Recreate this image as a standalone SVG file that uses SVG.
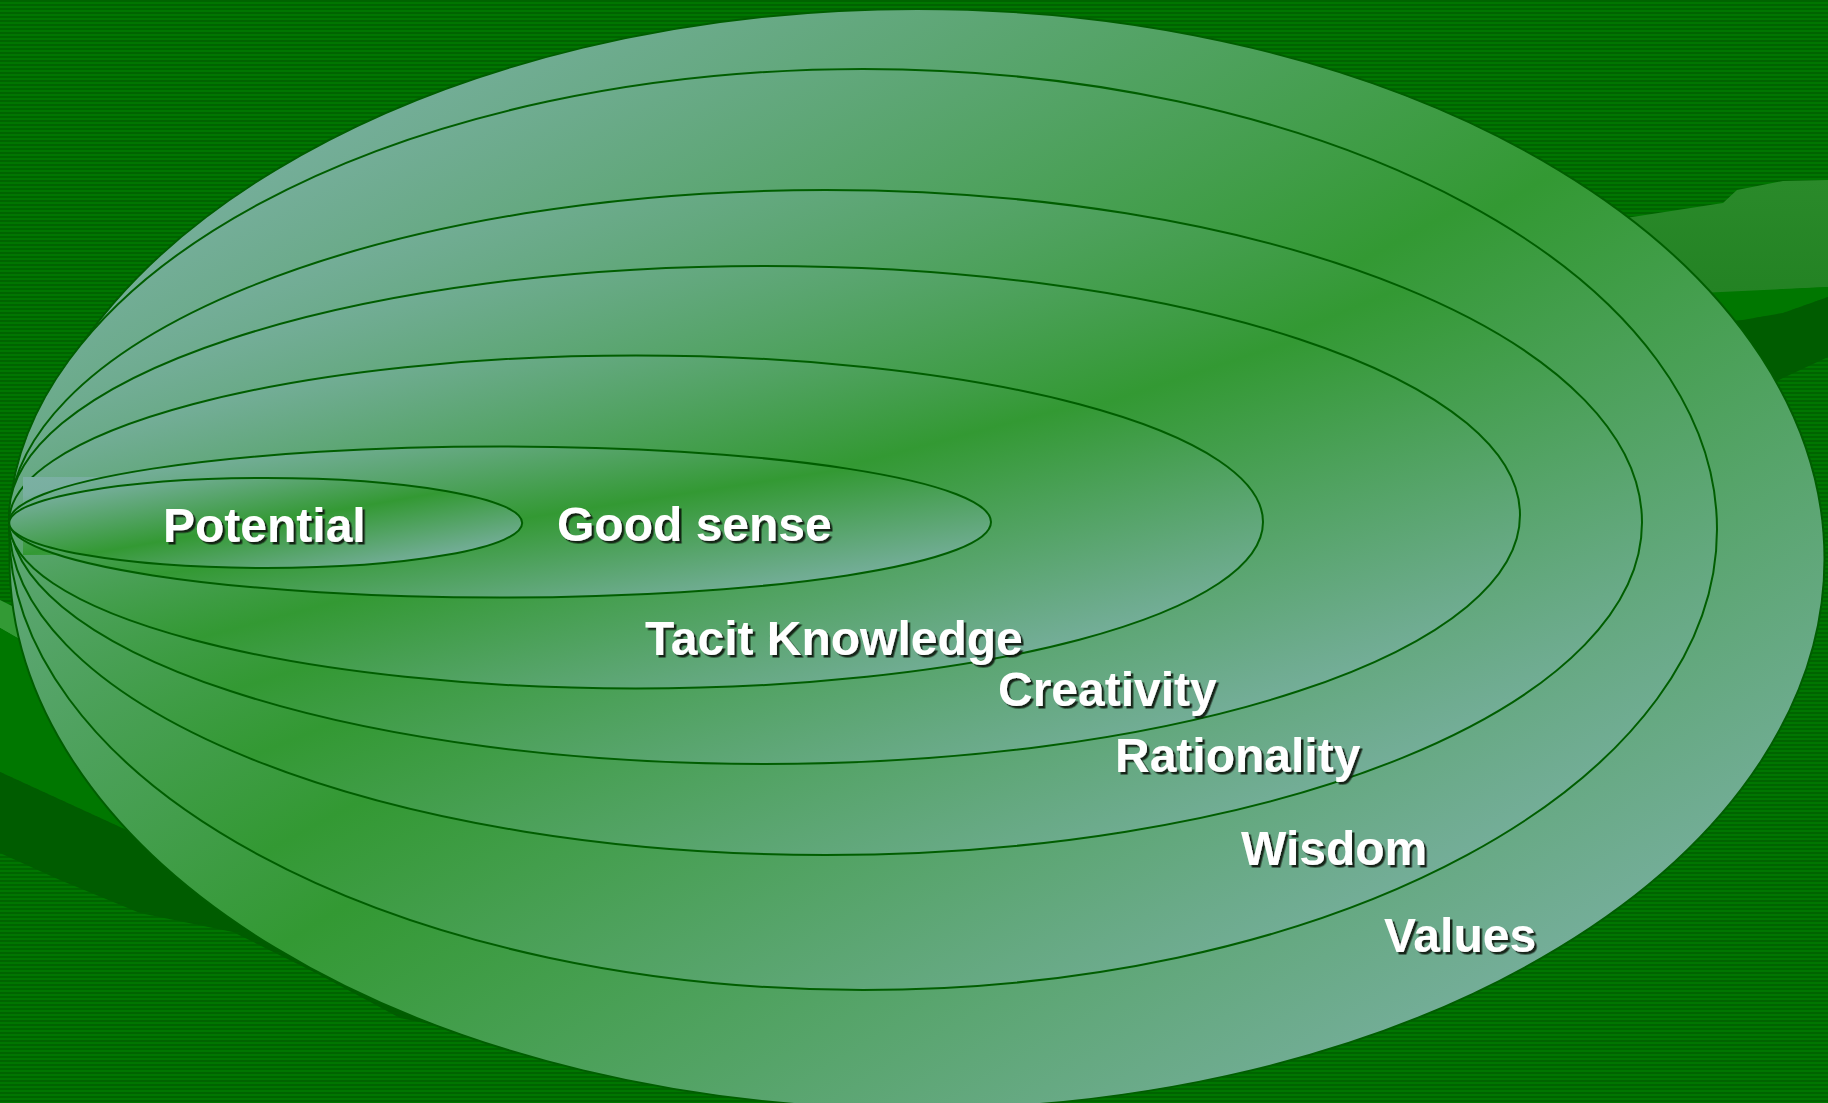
<svg xmlns="http://www.w3.org/2000/svg" width="1828" height="1103" viewBox="0 0 1828 1103">
  <defs>
    <pattern id="stripes" x="0" y="0" width="8" height="4" patternUnits="userSpaceOnUse">
      <rect x="0" y="0" width="8" height="4" fill="#006300"/>
      <rect x="0" y="2" width="8" height="2" fill="#007600"/>
    </pattern>
    <linearGradient id="band" x1="0" y1="0" x2="1" y2="1">
      <stop offset="0" stop-color="#7BB0A3"/>
      <stop offset="0.12" stop-color="#79AFA0"/>
      <stop offset="0.5" stop-color="#339933"/>
      <stop offset="0.88" stop-color="#79AFA0"/>
      <stop offset="1" stop-color="#7BB0A3"/>
    </linearGradient>
    <linearGradient id="midgreen" x1="0" y1="0" x2="0" y2="1">
      <stop offset="0" stop-color="#2A8A2A"/>
      <stop offset="1" stop-color="#238223"/>
    </linearGradient>
    <filter id="shadow" x="-5%" y="-20%" width="115%" height="150%">
      <feDropShadow dx="2.5" dy="2.5" stdDeviation="0.4" flood-color="#0a140a" flood-opacity="0.9"/>
    </filter>
    <style>
      .ring { fill: url(#band); stroke: #005E00; stroke-width: 2; }
      .label { font-family: "Liberation Sans", Arial, sans-serif; font-weight: bold; font-size: 48px; fill: #FFFFFF; filter: url(#shadow); }
    </style>
  </defs>

  <g id="background">
    <rect x="0" y="0" width="1828" height="1103" fill="url(#stripes)"/>
    <polygon points="0,600 300,750 300,800 0,628" fill="#339A35"/>
    <polygon points="0,628 300,800 300,900 133,833 0,772" fill="#007700"/>
    <polygon points="0,772 133,833 400,960 460,1030 400,1018 320,975 233,932 140,913 60,880 0,853" fill="#005C00"/>
    <polygon points="1600,222 1723,203 1737,190 1783,181 1828,180 1828,287 1723,293 1600,300" fill="url(#midgreen)"/>
    <polygon points="1700,293 1828,287 1828,297 1783,313 1743,320 1700,325" fill="#007700"/>
    <polygon points="1700,325 1743,320 1783,313 1828,297 1828,357 1783,378 1750,395 1700,400" fill="#005C00"/>
  </g>

  <g id="node-values"><ellipse class="ring" cx="917" cy="559" rx="907.5" ry="550"/></g>
  <g id="node-wisdom"><ellipse class="ring" cx="863" cy="529.5" rx="854" ry="460.5"/></g>
  <g id="node-rationality"><ellipse class="ring" cx="825.5" cy="522.5" rx="816.5" ry="332.5"/></g>
  <g id="node-creativity"><ellipse class="ring" cx="764.5" cy="515" rx="755.5" ry="249"/></g>
  <g id="node-tacit-knowledge"><ellipse class="ring" cx="636" cy="522" rx="627" ry="166.5"/></g>
  <g id="potential-textbox"><rect x="23" y="477" width="380" height="78" fill="url(#band)"/></g>
  <g id="node-good-sense"><ellipse class="ring" cx="500" cy="522" rx="491" ry="75.5"/></g>
  <g id="node-potential"><ellipse class="ring" cx="265.7" cy="523" rx="256.5" ry="45"/></g>

  <g id="connectors"></g>

  <g id="labels">
    <text class="label" x="163" y="542">Potential</text>
    <text class="label" x="557" y="541">Good sense</text>
    <text class="label" x="645" y="655">Tacit Knowledge</text>
    <text class="label" x="998" y="706">Creativity</text>
    <text class="label" x="1115" y="772">Rationality</text>
    <text class="label" x="1241" y="865">Wisdom</text>
    <text class="label" x="1384" y="952">Values</text>
  </g>
</svg>
